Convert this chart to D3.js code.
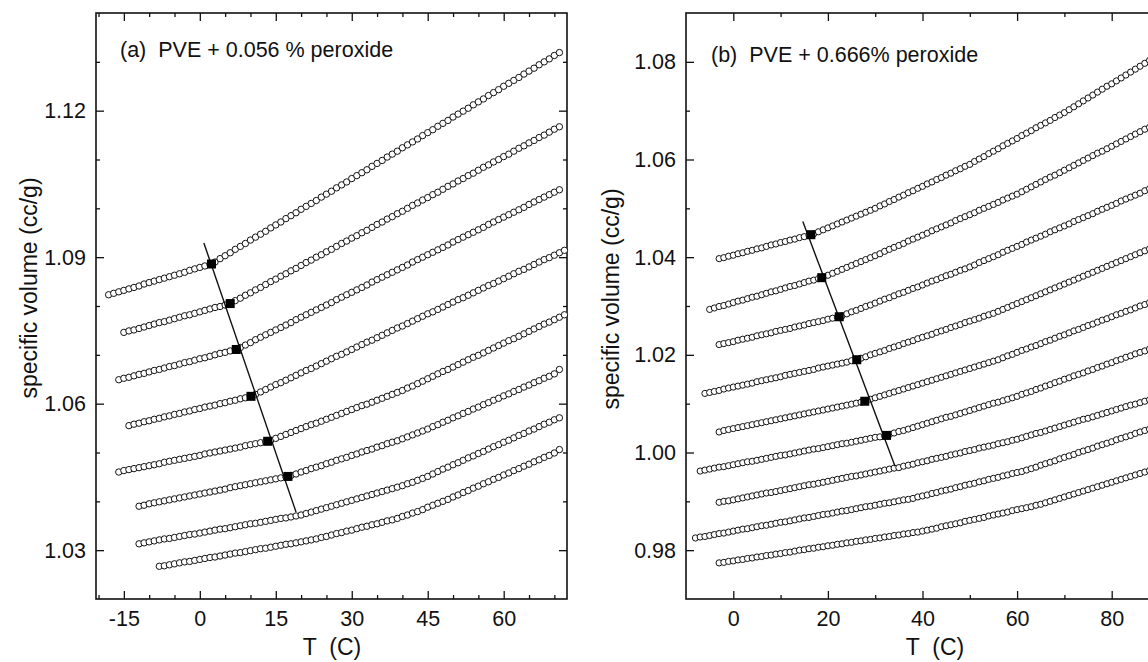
<!DOCTYPE html>
<html>
<head>
<meta charset="utf-8">
<script src="https://cdn.jsdelivr.net/npm/d3@7"></script>
<style>
  body { margin: 0; background: #fff; }
  text { font-family: "Liberation Sans", Arial, sans-serif; fill: #111; }
</style>
</head>
<body>
<div id="chart"></div>
<script>
// ---- panel (a): PVE + 0.056 % peroxide ----
const tempsA = [-18, -17, -16, -15, -14, -13, -12, -11, -10, -9,
  -8, -7, -6, -5, -4, -3, -2, -1, 0, 1,
  2, 3, 4, 5, 6, 7, 8, 9, 10, 11,
  12, 13, 14, 15, 16, 17, 18, 19, 20, 21,
  22, 23, 24, 25, 26, 27, 28, 29, 30, 31,
  32, 33, 34, 35, 36, 37, 38, 39, 40, 41,
  42, 43, 44, 45, 46, 47, 48, 49, 50, 51,
  52, 53, 54, 55, 56, 57, 58, 59, 60, 61,
  62, 63, 64, 65, 66, 67, 68, 69, 70, 71,
  72];

const volA1 = [1.0823, 1.0826, 1.0829, 1.0832, 1.0835, 1.0838, 1.0841, 1.0845, 1.0848, 1.0851,
  1.0854, 1.0857, 1.0860, 1.0863, 1.0866, 1.0869, 1.0873, 1.0876, 1.0879, 1.0882,
  1.0885, 1.0890, 1.0897, 1.0903, 1.0909, 1.0916, 1.0922, 1.0928, 1.0935, 1.0941,
  1.0947, 1.0953, 1.0960, 1.0966, 1.0972, 1.0979, 1.0985, 1.0991, 1.0998, 1.1004,
  1.1010, 1.1016, 1.1023, 1.1029, 1.1035, 1.1042, 1.1048, 1.1054, 1.1061, 1.1067,
  1.1073, 1.1079, 1.1086, 1.1092, 1.1098, 1.1105, 1.1111, 1.1117, 1.1124, 1.1130,
  1.1136, 1.1142, 1.1149, 1.1155, 1.1161, 1.1168, 1.1174, 1.1180, 1.1187, 1.1193,
  1.1199, 1.1205, 1.1212, 1.1218, 1.1224, 1.1231, 1.1237, 1.1243, 1.1250, 1.1256,
  1.1262, 1.1268, 1.1275, 1.1281, 1.1287, 1.1294, 1.1300, 1.1306, 1.1313, 1.1319,
  null];
const volA2 = [null, null, null,
  1.0746, 1.0749, 1.0751, 1.0754, 1.0757, 1.0760, 1.0763, 1.0766, 1.0768, 1.0771,
  1.0774, 1.0777, 1.0780, 1.0782, 1.0785, 1.0788, 1.0791, 1.0794, 1.0797, 1.0799,
  1.0802, 1.0805, 1.0811, 1.0816, 1.0822, 1.0827, 1.0833, 1.0838, 1.0844, 1.0850,
  1.0855, 1.0861, 1.0866, 1.0872, 1.0877, 1.0883, 1.0889, 1.0894, 1.0900, 1.0905,
  1.0911, 1.0916, 1.0922, 1.0928, 1.0933, 1.0939, 1.0944, 1.0950, 1.0955, 1.0961,
  1.0967, 1.0972, 1.0978, 1.0983, 1.0989, 1.0994, 1.1000, 1.1006, 1.1011, 1.1017,
  1.1022, 1.1028, 1.1033, 1.1039, 1.1045, 1.1050, 1.1056, 1.1061, 1.1067, 1.1072,
  1.1078, 1.1084, 1.1089, 1.1095, 1.1100, 1.1106, 1.1111, 1.1117, 1.1123, 1.1128,
  1.1134, 1.1139, 1.1145, 1.1150, 1.1156, 1.1162, 1.1167,
  null];
const volA3 = [null, null,
  1.0649, 1.0652, 1.0654, 1.0657, 1.0660, 1.0662, 1.0665, 1.0668, 1.0670, 1.0673,
  1.0676, 1.0678, 1.0681, 1.0684, 1.0686, 1.0689, 1.0692, 1.0694, 1.0697, 1.0700,
  1.0703, 1.0705, 1.0708, 1.0711, 1.0715, 1.0720, 1.0725, 1.0731, 1.0736, 1.0741,
  1.0746, 1.0751, 1.0756, 1.0761, 1.0766, 1.0772, 1.0777, 1.0782, 1.0787, 1.0792,
  1.0797, 1.0802, 1.0807, 1.0813, 1.0818, 1.0823, 1.0828, 1.0833, 1.0838, 1.0843,
  1.0849, 1.0854, 1.0859, 1.0864, 1.0869, 1.0874, 1.0879, 1.0884, 1.0890, 1.0895,
  1.0900, 1.0905, 1.0910, 1.0915, 1.0920, 1.0925, 1.0931, 1.0936, 1.0941, 1.0946,
  1.0951, 1.0956, 1.0961, 1.0967, 1.0972, 1.0977, 1.0982, 1.0987, 1.0992, 1.0997,
  1.1002, 1.1008, 1.1013, 1.1018, 1.1023, 1.1028, 1.1033, 1.1038,
  null];
const volA4 = [null, null, null, null,
  1.0555, 1.0558, 1.0560, 1.0563, 1.0565, 1.0568, 1.0570, 1.0573, 1.0575, 1.0578,
  1.0580, 1.0583, 1.0585, 1.0588, 1.0590, 1.0593, 1.0595, 1.0597, 1.0600, 1.0602,
  1.0605, 1.0607, 1.0610, 1.0612, 1.0615, 1.0619, 1.0624, 1.0629, 1.0634, 1.0639,
  1.0643, 1.0648, 1.0653, 1.0658, 1.0663, 1.0668, 1.0672, 1.0677, 1.0682, 1.0687,
  1.0692, 1.0697, 1.0701, 1.0706, 1.0711, 1.0716, 1.0721, 1.0726, 1.0730, 1.0735,
  1.0740, 1.0745, 1.0750, 1.0755, 1.0759, 1.0764, 1.0769, 1.0774, 1.0779, 1.0784,
  1.0788, 1.0793, 1.0798, 1.0803, 1.0808, 1.0813, 1.0817, 1.0822, 1.0827, 1.0832,
  1.0837, 1.0842, 1.0846, 1.0851, 1.0856, 1.0861, 1.0866, 1.0871, 1.0875, 1.0880,
  1.0885, 1.0890, 1.0895, 1.0899, 1.0904, 1.0909, 1.0914];
const volA5 = [null, null,
  1.0460, 1.0463, 1.0465, 1.0467, 1.0469, 1.0471, 1.0473, 1.0475, 1.0477, 1.0480,
  1.0482, 1.0484, 1.0486, 1.0488, 1.0490, 1.0492, 1.0494, 1.0497, 1.0499, 1.0501,
  1.0503, 1.0505, 1.0507, 1.0509, 1.0511, 1.0514, 1.0516, 1.0518, 1.0520, 1.0522,
  1.0525, 1.0529, 1.0533, 1.0537, 1.0541, 1.0545, 1.0549, 1.0553, 1.0557, 1.0560,
  1.0564, 1.0568, 1.0572, 1.0576, 1.0580, 1.0584, 1.0588, 1.0592, 1.0596, 1.0599,
  1.0603, 1.0607, 1.0611, 1.0615, 1.0619, 1.0623, 1.0627, 1.0632, 1.0636, 1.0641,
  1.0646, 1.0651, 1.0656, 1.0661, 1.0666, 1.0670, 1.0675, 1.0680, 1.0685, 1.0690,
  1.0695, 1.0699, 1.0704, 1.0709, 1.0714, 1.0719, 1.0724, 1.0729, 1.0733, 1.0738,
  1.0743, 1.0748, 1.0753, 1.0758, 1.0763, 1.0767, 1.0772, 1.0777, 1.0782];
const volA6 = [null, null, null, null, null, null,
  1.0390, 1.0392, 1.0395, 1.0397, 1.0399, 1.0401, 1.0403, 1.0405, 1.0407, 1.0409,
  1.0411, 1.0413, 1.0415, 1.0417, 1.0419, 1.0421, 1.0423, 1.0425, 1.0428, 1.0430,
  1.0432, 1.0434, 1.0436, 1.0438, 1.0440, 1.0442, 1.0444, 1.0446, 1.0448, 1.0450,
  1.0453, 1.0456, 1.0460, 1.0463, 1.0467, 1.0470, 1.0473, 1.0477, 1.0480, 1.0484,
  1.0487, 1.0490, 1.0494, 1.0497, 1.0501, 1.0504, 1.0507, 1.0511, 1.0514, 1.0518,
  1.0521, 1.0524, 1.0528, 1.0532, 1.0536, 1.0540, 1.0544, 1.0548, 1.0553, 1.0557,
  1.0562, 1.0566, 1.0571, 1.0575, 1.0580, 1.0584, 1.0589, 1.0593, 1.0598, 1.0602,
  1.0607, 1.0611, 1.0616, 1.0620, 1.0625, 1.0629, 1.0634, 1.0638, 1.0643, 1.0647,
  1.0652, 1.0656, 1.0661, 1.0670,
  null];
const volA7 = [null, null, null, null, null, null,
  1.0313, 1.0315, 1.0317, 1.0319, 1.0321, 1.0323, 1.0324, 1.0326, 1.0328, 1.0330,
  1.0332, 1.0333, 1.0335, 1.0337, 1.0339, 1.0341, 1.0343, 1.0344, 1.0346, 1.0348,
  1.0350, 1.0352, 1.0354, 1.0355, 1.0357, 1.0359, 1.0361, 1.0363, 1.0365, 1.0366,
  1.0368, 1.0370, 1.0372, 1.0375, 1.0378, 1.0381, 1.0384, 1.0387, 1.0390, 1.0393,
  1.0396, 1.0399, 1.0402, 1.0405, 1.0408, 1.0411, 1.0414, 1.0417, 1.0420, 1.0423,
  1.0426, 1.0429, 1.0432, 1.0436, 1.0439, 1.0443, 1.0447, 1.0451, 1.0456, 1.0461,
  1.0466, 1.0470, 1.0475, 1.0479, 1.0484, 1.0489, 1.0493, 1.0498, 1.0502, 1.0507,
  1.0512, 1.0516, 1.0521, 1.0525, 1.0530, 1.0535, 1.0539, 1.0544, 1.0548, 1.0553,
  1.0558, 1.0562, 1.0567, 1.0571,
  null];
const volA8 = [null, null, null, null, null, null, null, null, null, null,
  1.0267, 1.0268, 1.0270, 1.0272, 1.0274, 1.0276, 1.0277, 1.0279, 1.0281, 1.0283,
  1.0285, 1.0286, 1.0288, 1.0290, 1.0292, 1.0294, 1.0295, 1.0297, 1.0299, 1.0301,
  1.0303, 1.0304, 1.0306, 1.0308, 1.0310, 1.0312, 1.0313, 1.0315, 1.0317, 1.0319,
  1.0321, 1.0323, 1.0326, 1.0328, 1.0331, 1.0334, 1.0336, 1.0339, 1.0341, 1.0344,
  1.0347, 1.0349, 1.0352, 1.0354, 1.0357, 1.0360, 1.0362, 1.0365, 1.0369, 1.0372,
  1.0376, 1.0379, 1.0383, 1.0388, 1.0392, 1.0396, 1.0400, 1.0404, 1.0409, 1.0413,
  1.0418, 1.0422, 1.0427, 1.0431, 1.0436, 1.0440, 1.0445, 1.0449, 1.0454, 1.0458,
  1.0463, 1.0467, 1.0472, 1.0476, 1.0481, 1.0485, 1.0490, 1.0494, 1.0499, 1.0506,
  null];

// glass transition points (filled squares) and the line through them
const tgA = [2.3, 6.0, 7.2, 10.1, 13.4, 17.4];
const vgA = [1.0886, 1.0805, 1.0711, 1.0615, 1.0523, 1.0451];
const lineTA = [0.8, 19.0];
const lineVA = [1.0929, 1.0378];

const xMajorA = [-15, 0, 15, 30, 45, 60];
const xMinorA = [-20, -10, -5, 5, 10, 20, 25, 35, 40, 50, 55, 65, 70];
const yMajorA = [1.03, 1.06, 1.09, 1.12];
const yMinorA = [1.04, 1.05, 1.07, 1.08, 1.10, 1.11, 1.13];

// ---- panel (b): PVE + 0.666% peroxide ----
const tempsB = [-8, -7, -6, -5, -4, -3, -2, -1, 0, 1,
  2, 3, 4, 5, 6, 7, 8, 9, 10, 11,
  12, 13, 14, 15, 16, 17, 18, 19, 20, 21,
  22, 23, 24, 25, 26, 27, 28, 29, 30, 31,
  32, 33, 34, 35, 36, 37, 38, 39, 40, 41,
  42, 43, 44, 45, 46, 47, 48, 49, 50, 51,
  52, 53, 54, 55, 56, 57, 58, 59, 60, 61,
  62, 63, 64, 65, 66, 67, 68, 69, 70, 71,
  72, 73, 74, 75, 76, 77, 78, 79, 80, 81,
  82, 83, 84, 85, 86, 87, 88, 89];

const volB1 = [null, null, null, null, null,
  1.0397, 1.0399, 1.0402, 1.0404, 1.0407, 1.0409, 1.0412, 1.0414, 1.0417, 1.0419,
  1.0422, 1.0425, 1.0427, 1.0430, 1.0432, 1.0435, 1.0437, 1.0440, 1.0442, 1.0445,
  1.0448, 1.0452, 1.0456, 1.0460, 1.0464, 1.0468, 1.0472, 1.0476, 1.0480, 1.0484,
  1.0488, 1.0492, 1.0496, 1.0500, 1.0505, 1.0509, 1.0514, 1.0518, 1.0523, 1.0527,
  1.0532, 1.0536, 1.0541, 1.0545, 1.0550, 1.0554, 1.0559, 1.0563, 1.0568, 1.0572,
  1.0577, 1.0581, 1.0586, 1.0590, 1.0596, 1.0601, 1.0606, 1.0612, 1.0617, 1.0622,
  1.0628, 1.0633, 1.0638, 1.0643, 1.0649, 1.0654, 1.0659, 1.0665, 1.0670, 1.0675,
  1.0680, 1.0686, 1.0691, 1.0696, 1.0702, 1.0708, 1.0714, 1.0720, 1.0726, 1.0732,
  1.0738, 1.0744, 1.0750, 1.0755, 1.0761, 1.0767, 1.0773, 1.0779, 1.0785, 1.0791,
  1.0797, 1.0803, 1.0809];
const volB2 = [null, null, null,
  1.0293, 1.0296, 1.0299, 1.0301, 1.0304, 1.0307, 1.0310, 1.0312, 1.0315, 1.0318,
  1.0320, 1.0323, 1.0326, 1.0329, 1.0331, 1.0334, 1.0337, 1.0340, 1.0342, 1.0345,
  1.0348, 1.0351, 1.0353, 1.0356, 1.0359, 1.0363, 1.0367, 1.0371, 1.0375, 1.0379,
  1.0383, 1.0387, 1.0391, 1.0395, 1.0399, 1.0403, 1.0407, 1.0412, 1.0416, 1.0420,
  1.0424, 1.0428, 1.0433, 1.0437, 1.0441, 1.0445, 1.0449, 1.0454, 1.0458, 1.0462,
  1.0466, 1.0470, 1.0475, 1.0479, 1.0483, 1.0487, 1.0491, 1.0496, 1.0500, 1.0504,
  1.0508, 1.0512, 1.0517, 1.0521, 1.0525, 1.0529, 1.0534, 1.0539, 1.0544, 1.0549,
  1.0554, 1.0559, 1.0564, 1.0568, 1.0573, 1.0578, 1.0583, 1.0588, 1.0593, 1.0598,
  1.0603, 1.0608, 1.0613, 1.0617, 1.0622, 1.0627, 1.0632, 1.0637, 1.0642, 1.0647,
  1.0652, 1.0657, 1.0662, 1.0666, 1.0671];
const volB3 = [null, null, null, null, null,
  1.0221, 1.0223, 1.0225, 1.0227, 1.0230, 1.0232, 1.0234, 1.0236, 1.0239, 1.0241,
  1.0243, 1.0245, 1.0248, 1.0250, 1.0252, 1.0254, 1.0257, 1.0259, 1.0261, 1.0264,
  1.0266, 1.0268, 1.0270, 1.0273, 1.0275, 1.0277, 1.0280, 1.0284, 1.0288, 1.0291,
  1.0295, 1.0299, 1.0302, 1.0306, 1.0310, 1.0314, 1.0317, 1.0321, 1.0325, 1.0328,
  1.0332, 1.0336, 1.0339, 1.0343, 1.0347, 1.0351, 1.0354, 1.0358, 1.0362, 1.0365,
  1.0369, 1.0373, 1.0376, 1.0380, 1.0384, 1.0389, 1.0393, 1.0397, 1.0401, 1.0405,
  1.0410, 1.0414, 1.0418, 1.0422, 1.0426, 1.0431, 1.0435, 1.0439, 1.0443, 1.0447,
  1.0452, 1.0456, 1.0460, 1.0464, 1.0468, 1.0473, 1.0477, 1.0481, 1.0485, 1.0489,
  1.0494, 1.0498, 1.0502, 1.0506, 1.0510, 1.0515, 1.0519, 1.0523, 1.0527, 1.0531,
  1.0536, 1.0540, 1.0544];
const volB4 = [null, null,
  1.0121, 1.0123, 1.0125, 1.0127, 1.0130, 1.0132, 1.0134, 1.0136, 1.0138, 1.0140,
  1.0142, 1.0145, 1.0147, 1.0149, 1.0151, 1.0153, 1.0155, 1.0158, 1.0160, 1.0162,
  1.0164, 1.0166, 1.0168, 1.0170, 1.0173, 1.0175, 1.0177, 1.0179, 1.0181, 1.0183,
  1.0185, 1.0188, 1.0190, 1.0193, 1.0196, 1.0200, 1.0203, 1.0206, 1.0209, 1.0213,
  1.0216, 1.0219, 1.0223, 1.0226, 1.0229, 1.0233, 1.0236, 1.0239, 1.0242, 1.0246,
  1.0249, 1.0252, 1.0256, 1.0259, 1.0262, 1.0266, 1.0269, 1.0272, 1.0275, 1.0279,
  1.0282, 1.0285, 1.0289, 1.0293, 1.0297, 1.0301, 1.0305, 1.0309, 1.0313, 1.0317,
  1.0321, 1.0325, 1.0329, 1.0333, 1.0337, 1.0341, 1.0345, 1.0349, 1.0353, 1.0357,
  1.0361, 1.0365, 1.0369, 1.0373, 1.0377, 1.0381, 1.0385, 1.0389, 1.0393, 1.0397,
  1.0401, 1.0405, 1.0409, 1.0413, 1.0417, 1.0421];
const volB5 = [null, null, null, null, null,
  1.0042, 1.0045, 1.0047, 1.0049, 1.0051, 1.0053, 1.0055, 1.0057, 1.0059, 1.0061,
  1.0063, 1.0065, 1.0067, 1.0069, 1.0071, 1.0073, 1.0075, 1.0077, 1.0079, 1.0081,
  1.0083, 1.0085, 1.0087, 1.0089, 1.0091, 1.0093, 1.0095, 1.0097, 1.0099, 1.0101,
  1.0103, 1.0106, 1.0109, 1.0112, 1.0115, 1.0118, 1.0121, 1.0124, 1.0127, 1.0130,
  1.0133, 1.0136, 1.0139, 1.0142, 1.0145, 1.0148, 1.0151, 1.0154, 1.0157, 1.0160,
  1.0163, 1.0166, 1.0169, 1.0172, 1.0175, 1.0178, 1.0181, 1.0184, 1.0187, 1.0190,
  1.0194, 1.0198, 1.0201, 1.0205, 1.0209, 1.0212, 1.0216, 1.0219, 1.0223, 1.0227,
  1.0230, 1.0234, 1.0238, 1.0241, 1.0245, 1.0249, 1.0252, 1.0256, 1.0260, 1.0263,
  1.0267, 1.0271, 1.0274, 1.0278, 1.0282, 1.0285, 1.0289, 1.0292, 1.0296, 1.0300,
  1.0303, 1.0307, 1.0311];
const volB6 = [null,
  0.9962, 0.9964, 0.9966, 0.9968, 0.9970, 0.9971, 0.9973, 0.9975, 0.9977, 0.9979,
  0.9981, 0.9982, 0.9984, 0.9986, 0.9988, 0.9990, 0.9992, 0.9994, 0.9995, 0.9997,
  0.9999, 1.0001, 1.0003, 1.0005, 1.0007, 1.0008, 1.0010, 1.0012, 1.0014, 1.0016,
  1.0018, 1.0019, 1.0021, 1.0023, 1.0025, 1.0027, 1.0029, 1.0031, 1.0032, 1.0034,
  1.0037, 1.0040, 1.0043, 1.0045, 1.0048, 1.0051, 1.0054, 1.0057, 1.0060, 1.0063,
  1.0066, 1.0069, 1.0072, 1.0074, 1.0077, 1.0080, 1.0083, 1.0086, 1.0089, 1.0092,
  1.0095, 1.0098, 1.0101, 1.0103, 1.0106, 1.0109, 1.0112, 1.0115, 1.0119, 1.0122,
  1.0125, 1.0129, 1.0132, 1.0136, 1.0139, 1.0143, 1.0146, 1.0150, 1.0153, 1.0157,
  1.0160, 1.0163, 1.0167, 1.0170, 1.0174, 1.0177, 1.0181, 1.0184, 1.0188, 1.0191,
  1.0195, 1.0198, 1.0202, 1.0205, 1.0208, 1.0212, 1.0215];
const volB7 = [null, null, null, null, null,
  0.9898, 0.9900, 0.9901, 0.9903, 0.9905, 0.9907, 0.9909, 0.9911, 0.9913, 0.9915,
  0.9917, 0.9918, 0.9920, 0.9922, 0.9924, 0.9926, 0.9928, 0.9930, 0.9932, 0.9934,
  0.9935, 0.9937, 0.9939, 0.9941, 0.9943, 0.9945, 0.9947, 0.9949, 0.9951, 0.9952,
  0.9954, 0.9956, 0.9958, 0.9960, 0.9962, 0.9964, 0.9966, 0.9968, 0.9969, 0.9972,
  0.9974, 0.9976, 0.9979, 0.9981, 0.9983, 0.9986, 0.9988, 0.9990, 0.9992, 0.9995,
  0.9997, 0.9999, 1.0002, 1.0004, 1.0006, 1.0009, 1.0011, 1.0013, 1.0015, 1.0018,
  1.0020, 1.0022, 1.0025, 1.0027, 1.0030, 1.0033, 1.0036, 1.0039, 1.0041, 1.0044,
  1.0047, 1.0050, 1.0053, 1.0056, 1.0059, 1.0062, 1.0065, 1.0068, 1.0070, 1.0073,
  1.0076, 1.0079, 1.0082, 1.0085, 1.0088, 1.0091, 1.0094, 1.0097, 1.0099, 1.0102,
  1.0105, 1.0108, 1.0111];
const volB8 = [
  0.9825, 0.9827, 0.9828, 0.9830, 0.9832, 0.9834, 0.9835, 0.9837, 0.9839, 0.9841,
  0.9843, 0.9844, 0.9846, 0.9848, 0.9850, 0.9851, 0.9853, 0.9855, 0.9857, 0.9858,
  0.9860, 0.9862, 0.9864, 0.9866, 0.9867, 0.9869, 0.9871, 0.9873, 0.9874, 0.9876,
  0.9878, 0.9880, 0.9881, 0.9883, 0.9885, 0.9887, 0.9889, 0.9890, 0.9892, 0.9894,
  0.9896, 0.9897, 0.9899, 0.9901, 0.9903, 0.9904, 0.9906, 0.9909, 0.9911, 0.9913,
  0.9916, 0.9918, 0.9921, 0.9923, 0.9925, 0.9928, 0.9930, 0.9933, 0.9935, 0.9937,
  0.9940, 0.9942, 0.9945, 0.9947, 0.9949, 0.9952, 0.9954, 0.9957, 0.9959, 0.9961,
  0.9964, 0.9967, 0.9970, 0.9974, 0.9977, 0.9980, 0.9983, 0.9987, 0.9990, 0.9993,
  0.9996, 1.0000, 1.0003, 1.0006, 1.0009, 1.0013, 1.0016, 1.0019, 1.0022, 1.0026,
  1.0029, 1.0032, 1.0035, 1.0039, 1.0042, 1.0045, 1.0048, 1.0052];
const volB9 = [null, null, null, null, null,
  0.9774, 0.9775, 0.9777, 0.9778, 0.9780, 0.9781, 0.9783, 0.9784, 0.9786, 0.9787,
  0.9789, 0.9790, 0.9792, 0.9793, 0.9795, 0.9796, 0.9798, 0.9800, 0.9801, 0.9803,
  0.9804, 0.9806, 0.9807, 0.9809, 0.9810, 0.9812, 0.9813, 0.9815, 0.9816, 0.9818,
  0.9819, 0.9821, 0.9822, 0.9824, 0.9825, 0.9827, 0.9828, 0.9830, 0.9831, 0.9833,
  0.9834, 0.9836, 0.9837, 0.9839, 0.9841, 0.9843, 0.9845, 0.9848, 0.9850, 0.9852,
  0.9854, 0.9856, 0.9859, 0.9861, 0.9863, 0.9865, 0.9867, 0.9870, 0.9872, 0.9874,
  0.9876, 0.9878, 0.9881, 0.9883, 0.9885, 0.9887, 0.9889, 0.9892, 0.9894, 0.9897,
  0.9900, 0.9903, 0.9906, 0.9909, 0.9912, 0.9915, 0.9918, 0.9921, 0.9924, 0.9927,
  0.9930, 0.9933, 0.9936, 0.9939, 0.9942, 0.9945, 0.9948, 0.9951, 0.9954, 0.9957,
  0.9960, 0.9963, 0.9966];

const tgB = [16.4, 18.7, 22.4, 26.1, 27.8, 32.4];
const vgB = [1.0446, 1.0358, 1.0278, 1.0190, 1.0105, 1.0035];
const lineTB = [14.7, 34.2];
const lineVB = [1.0473, 0.9972];

const xMajorB = [0, 20, 40, 60, 80];
const xMinorB = [10, 30, 50, 70, 90];
const yMajorB = [0.98, 1.00, 1.02, 1.04, 1.06, 1.08];
const yMinorB = [0.99, 1.01, 1.03, 1.05, 1.07];

// ---------------------------------------------------------------
const W = 1148, H = 662;
const svg = d3.select('#chart').append('svg')
  .attr('width', W).attr('height', H)
  .style('background', '#fff');

const ink = '#111';

const drawPanel = (p) => {
  const x = d3.scaleLinear().domain(p.xDomain).range([0, p.width]);
  const y = d3.scaleLinear().domain(p.yDomain).range([p.height, 0]);
  const g = svg.append('g').attr('transform', `translate(${p.left},${p.top})`);

  const tidy = sel => {
    sel.select('.domain').remove();
    sel.selectAll('.tick line').attr('stroke', ink).attr('stroke-width', 1.3);
    sel.selectAll('.tick text')
      .style('font-family', '"Liberation Sans", Arial, sans-serif')
      .style('font-size', '21.5px').attr('fill', ink);
  };

  // ticks on all four sides, pointing in
  g.append('g').attr('transform', `translate(0,${p.height})`)
    .call(d3.axisBottom(x).tickValues(p.xMajor).tickSize(-8).tickPadding(12).tickFormat(d => String(d)))
    .call(tidy);
  g.append('g').attr('transform', `translate(0,${p.height})`)
    .call(d3.axisBottom(x).tickValues(p.xMinor).tickSize(-4).tickFormat(''))
    .call(tidy);
  g.append('g')
    .call(d3.axisTop(x).tickValues(p.xMajor).tickSize(-8).tickFormat(''))
    .call(tidy);
  g.append('g')
    .call(d3.axisTop(x).tickValues(p.xMinor).tickSize(-4).tickFormat(''))
    .call(tidy);
  g.append('g')
    .call(d3.axisLeft(y).tickValues(p.yMajor).tickSize(-8).tickPadding(10).tickFormat(d3.format('.2f')))
    .call(tidy);
  g.append('g')
    .call(d3.axisLeft(y).tickValues(p.yMinor).tickSize(-4).tickFormat(''))
    .call(tidy);
  g.append('g').attr('transform', `translate(${p.width},0)`)
    .call(d3.axisRight(y).tickValues(p.yMajor).tickSize(-8).tickFormat(''))
    .call(tidy);
  g.append('g').attr('transform', `translate(${p.width},0)`)
    .call(d3.axisRight(y).tickValues(p.yMinor).tickSize(-4).tickFormat(''))
    .call(tidy);

  g.append('rect')
    .attr('width', p.width).attr('height', p.height)
    .attr('fill', 'none').attr('stroke', ink).attr('stroke-width', 1.6);

  // open-circle curves
  p.series.forEach((vals, k) => {
    if (vals.length !== p.temps.length) throw new Error(`series ${k} has ${vals.length} values`);
    const pts = p.temps.map((t, i) => [t, vals[i]]).filter(d => d[1] !== null);
    g.append('g').selectAll('circle').data(pts).join('circle')
      .attr('cx', d => x(d[0])).attr('cy', d => y(d[1]))
      .attr('r', p.r)
      .attr('fill', '#fff').attr('stroke', ink).attr('stroke-width', 1);
  });

  // Tg line and squares
  g.append('path')
    .datum(p.lineT.map((t, i) => [t, p.lineV[i]]))
    .attr('d', d3.line().x(d => x(d[0])).y(d => y(d[1])))
    .attr('fill', 'none').attr('stroke', ink).attr('stroke-width', 1.4);

  const s = 9;
  g.append('g').selectAll('rect').data(p.tg.map((t, i) => [t, p.vg[i]])).join('rect')
    .attr('x', d => x(d[0]) - s / 2).attr('y', d => y(d[1]) - s / 2)
    .attr('width', s).attr('height', s).attr('fill', '#000');
};

drawPanel({
  left: 96, top: 13, width: 471, height: 586,
  xDomain: [-20.5, 72.5], yDomain: [1.02, 1.14], r: 3.2,
  temps: tempsA,
  series: [volA1, volA2, volA3, volA4, volA5, volA6, volA7, volA8],
  tg: tgA, vg: vgA, lineT: lineTA, lineV: lineVA,
  xMajor: xMajorA, xMinor: xMinorA, yMajor: yMajorA, yMinor: yMinorA
});

drawPanel({
  left: 686, top: 13, width: 473, height: 586,
  xDomain: [-10, 90], yDomain: [0.97, 1.09], r: 3.1,
  temps: tempsB,
  series: [volB1, volB2, volB3, volB4, volB5, volB6, volB7, volB8, volB9],
  tg: tgB, vg: vgB, lineT: lineTB, lineV: lineVB,
  xMajor: xMajorB, xMinor: xMinorB, yMajor: yMajorB, yMinor: yMinorB
});

// titles and axis labels
const label = (txt, x, y, size, rotate) => {
  const t = svg.append('text')
    .attr('transform', `translate(${x},${y})` + (rotate ? ' rotate(-90)' : ''))
    .style('font-size', size + 'px')
    .style('white-space', 'pre')
    .attr('fill', ink)
    .text(txt);
  return t;
};

label('(a)  PVE + 0.056 % peroxide', 120, 57, 21.5);
label('(b)  PVE + 0.666% peroxide', 711, 62, 21.5);
label('specific volume (cc/g)', 37, 288, 23, true).attr('text-anchor', 'middle');
label('specific volume (cc/g)', 619, 299, 23, true).attr('text-anchor', 'middle');
label('T  (C)', 332, 655, 23).attr('text-anchor', 'middle');
label('T  (C)', 935, 655, 23).attr('text-anchor', 'middle');
</script>
</body>
</html>
